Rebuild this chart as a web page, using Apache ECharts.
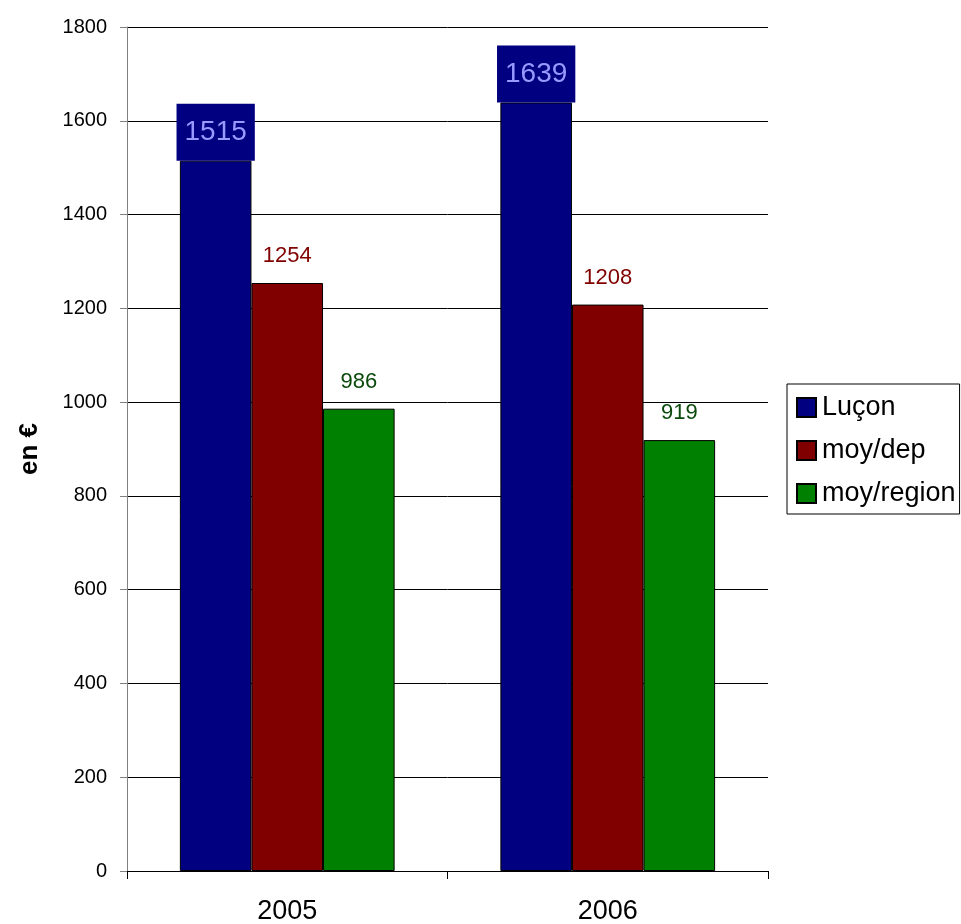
<!DOCTYPE html>
<html><head><meta charset="utf-8">
<script src="https://cdn.jsdelivr.net/npm/echarts@6/dist/echarts.min.js"></script>
<style>html,body{margin:0;padding:0;background:#fff}#c{width:961px;height:924px}</style>
</head><body><div id="c"></div>
<script>
const categories = ['2005', '2006'];
const seriesNames = ['Luçon', 'moy/dep', 'moy/region'];
const lucon = [1515, 1639];
const moyDep = [1254, 1208];
const moyRegion = [986, 919];
const yTicks = [0, 200, 400, 600, 800, 1000, 1200, 1400, 1600, 1800];

const font = 'Liberation Sans, Arial, sans-serif';
const chart = echarts.init(document.getElementById('c'), null, {renderer: 'canvas'});
const border = {borderColor: '#000', borderWidth: 1};
chart.setOption({
  animation: false,
  textStyle: {fontFamily: font},
  grid: {left: 127, right: 193, top: 27, bottom: 53, containLabel: false, outerBoundsMode: 'none'},
  legend: {
    orient: 'vertical', left: 787, top: 384,
    data: seriesNames,
    icon: 'rect', itemWidth: 19, itemHeight: 19, itemGap: 16,
    padding: [10, 4, 7, 9],
    borderColor: '#000', borderWidth: 1, backgroundColor: '#fff',
    textStyle: {fontSize: 27, color: '#000', fontFamily: font, padding: [0, 0, 0, 1]}
  },
  xAxis: {
    type: 'category', data: categories,
    axisLine: {lineStyle: {color: '#000', width: 1}},
    axisTick: {show: true, length: 8, lineStyle: {color: '#000'}},
    axisLabel: {fontSize: 27, color: '#000', margin: 27, fontFamily: font},
    splitLine: {show: false}
  },
  yAxis: {
    type: 'value', min: yTicks[0], max: yTicks[yTicks.length - 1], interval: 200,
    name: 'en €', nameLocation: 'middle', nameGap: 84, nameRotate: 90,
    nameTextStyle: {fontSize: 26, fontWeight: 'bold', color: '#000', fontFamily: font},
    axisLine: {show: true, lineStyle: {color: '#808080', width: 1}},
    axisTick: {show: true, length: 7, lineStyle: {color: '#808080'}},
    axisLabel: {fontSize: 20, color: '#000', margin: 20, fontFamily: font,
      formatter: v => String(v)},
    splitLine: {show: true, lineStyle: {color: '#000', width: 1}}
  },
  series: [
    {
      name: seriesNames[0], type: 'bar', data: lucon, barGap: '0%', barCategoryGap: '33%',
      itemStyle: Object.assign({color: '#000080'}, border),
      label: {show: true, position: 'top', distance: 0, fontSize: 28, color: '#9999ff',
        backgroundColor: '#000080', padding: [15, 8, 14, 8], fontFamily: font}
    },
    {
      name: seriesNames[1], type: 'bar', data: moyDep,
      itemStyle: Object.assign({color: '#800000'}, border),
      label: {show: true, position: 'top', distance: 16, fontSize: 22, color: '#800000', fontFamily: font}
    },
    {
      name: seriesNames[2], type: 'bar', data: moyRegion,
      itemStyle: Object.assign({color: '#008000'}, border),
      label: {show: true, position: 'top', distance: 16, fontSize: 22, color: '#0b4a0b', fontFamily: font}
    }
  ]
});
</script></body></html>
